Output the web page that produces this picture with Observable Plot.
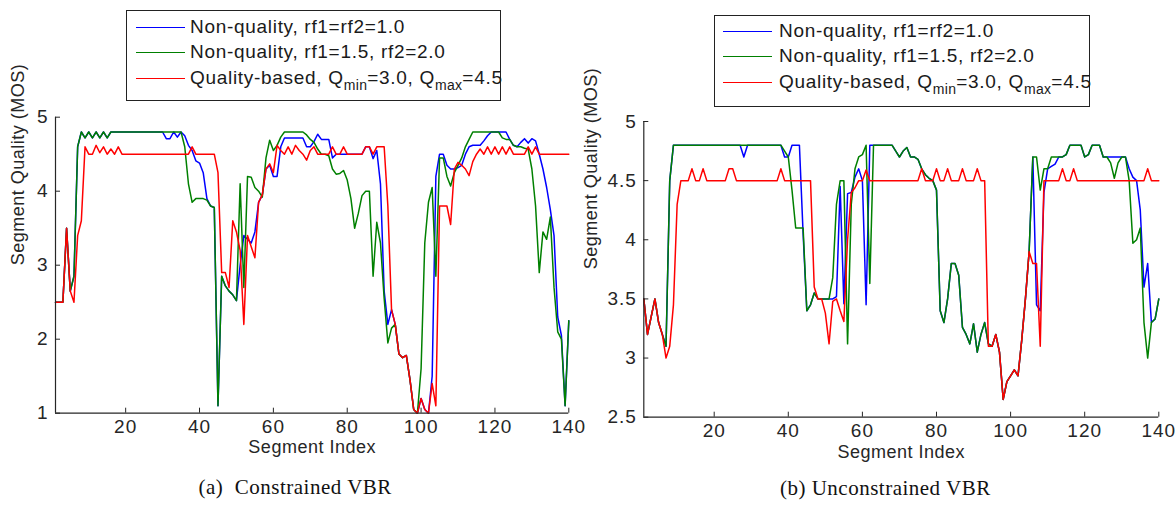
<!DOCTYPE html>
<html><head><meta charset="utf-8">
<script src="https://cdn.jsdelivr.net/npm/d3@7"></script>
<script src="https://cdn.jsdelivr.net/npm/@observablehq/plot@0.6"></script>
<style>
body{margin:0;background:#fff;}
#wrap{position:relative;width:1176px;height:508px;overflow:hidden;font-family:"Liberation Sans",Arial,sans-serif;}
#wrap svg{position:absolute;top:0;}
.pc text{letter-spacing:0.5px;}
.pc g[aria-label="x-axis tick label"] text,.pc g[aria-label="y-axis tick label"] text{letter-spacing:1px;}
.legend{position:absolute;border:1px solid #222;background:#fff;font-size:19px;letter-spacing:0.7px;color:#1a1a1a;box-sizing:border-box;}
.row{position:absolute;height:24px;line-height:24px;white-space:nowrap;}
.sw{position:absolute;height:0;border-top:1.5px solid;}
.row sub{font-size:14px;vertical-align:-6px;line-height:0;letter-spacing:0.3px;}
</style></head>
<body><div id="wrap"></div>
<script>
const seriesNames = ["Non-quality, rf1=rf2=1.0", "Non-quality, rf1=1.5, rf2=2.0", "Quality-based, Qmin=3.0, Qmax=4.5"];
const seriesColors = ["#0000ff", "#008000", "#ff0000"];
const xTicks = [20, 40, 60, 80, 100, 120, 140];
const yTicksA = [1, 2, 3, 4, 5];
const yTicksB = [2.5, 3, 3.5, 4, 4.5, 5];

// (a) Constrained VBR
const aBlue = [2.5,2.5,2.5,3.5,2.65,2.85,4.6,4.8,4.72,4.8,
4.72,4.8,4.72,4.8,4.72,4.8,4.8,4.8,4.8,4.8,
4.8,4.8,4.8,4.8,4.8,4.8,4.8,4.8,4.8,4.8,
4.71,4.71,4.8,4.73,4.8,4.75,4.62,4.55,4.41,4.38,
4.25,3.9,3.8,3.78,1.1,2.85,2.72,2.65,2.6,2.52,
3.0,3.4,3.35,3.3,3.45,3.85,3.95,4.3,4.35,4.2,
4.2,4.6,4.72,4.72,4.72,4.72,4.72,4.72,4.6,4.6,
4.67,4.77,4.7,4.7,4.7,4.45,4.5,4.5,4.5,4.5,
4.5,4.5,4.5,4.5,4.6,4.6,4.44,4.55,4.1,2.65,
2.2,2.4,2.2,1.8,1.75,1.78,1.45,1.05,1.0,1.2,
1.05,1.0,1.5,4.2,4.5,4.5,4.35,4.3,4.3,4.32,
4.35,4.5,4.6,4.62,4.62,4.62,4.68,4.75,4.8,4.8,
4.8,4.8,4.8,4.7,4.62,4.6,4.66,4.71,4.65,4.71,
4.68,4.5,4.3,4.05,3.75,3.4,2.3,2.05,1.1,2.25];
const aGreen = [2.5,2.5,2.5,3.5,2.65,2.85,4.6,4.8,4.72,4.8,
4.72,4.8,4.72,4.8,4.72,4.8,4.8,4.8,4.8,4.8,
4.8,4.8,4.8,4.8,4.8,4.8,4.8,4.8,4.8,4.8,
4.8,4.8,4.8,4.8,4.8,4.6,4.1,3.85,3.9,3.9,
3.9,3.88,3.8,3.78,1.1,2.85,2.72,2.65,2.6,2.52,
4.1,2.7,4.2,4.19,4.05,4.0,3.92,4.45,4.69,4.55,
4.62,4.73,4.8,4.8,4.8,4.8,4.8,4.8,4.76,4.7,
4.66,4.57,4.5,4.5,4.48,4.3,4.23,4.24,4.28,4.15,
3.9,3.5,3.7,3.94,4.0,4.0,2.85,3.58,3.3,2.55,
1.95,2.15,2.2,1.8,1.75,1.78,1.45,1.05,1.0,1.6,
3.3,3.85,4.05,2.85,4.45,4.45,4.2,4.07,4.25,4.35,
4.45,4.6,4.7,4.8,4.8,4.8,4.8,4.8,4.8,4.8,
4.8,4.72,4.7,4.7,4.62,4.6,4.6,4.58,4.57,4.3,
3.8,2.9,3.45,3.35,3.65,2.7,2.1,2.0,1.1,2.25];
const aRed = [2.5,2.5,2.5,3.5,2.65,2.5,3.4,3.6,4.6,4.5,
4.5,4.62,4.52,4.6,4.5,4.57,4.5,4.6,4.5,4.5,
4.5,4.5,4.5,4.5,4.5,4.5,4.5,4.5,4.5,4.5,
4.5,4.5,4.5,4.5,4.5,4.5,4.5,4.6,4.5,4.5,
4.5,4.5,4.5,4.5,4.25,2.9,2.9,2.7,3.6,3.45,
3.2,2.2,3.4,3.25,3.1,3.85,3.95,4.3,4.37,4.25,
4.62,4.55,4.5,4.6,4.5,4.62,4.55,4.5,4.42,4.55,
4.6,4.5,4.5,4.5,4.5,4.6,4.5,4.5,4.6,4.5,
4.5,4.5,4.5,4.5,4.6,4.6,4.5,4.6,4.6,4.6,
3.8,2.4,2.2,1.8,1.75,1.78,1.45,1.05,1.0,1.2,
1.05,1.0,1.4,1.1,3.8,3.8,3.8,3.55,4.3,4.39,
4.35,4.3,4.21,4.4,4.5,4.57,4.5,4.6,4.5,4.6,
4.5,4.6,4.5,4.6,4.5,4.5,4.5,4.5,4.6,4.5,
4.6,4.5,4.5,4.5,4.5,4.5,4.5,4.5,4.5,4.5];

// (b) Unconstrained VBR
const bBlue = [3.5,3.2,3.35,3.5,3.3,3.2,3.1,4.5,4.8,4.8,
4.8,4.8,4.8,4.8,4.8,4.8,4.8,4.8,4.8,4.8,
4.8,4.8,4.8,4.8,4.8,4.8,4.8,4.7,4.8,4.8,
4.8,4.8,4.8,4.8,4.8,4.8,4.8,4.8,4.7,4.7,
4.8,4.8,4.8,4.05,3.4,3.45,3.55,3.5,3.5,3.5,
3.5,3.5,3.52,4.45,3.46,4.39,4.4,4.53,4.6,4.5,
3.45,4.8,4.8,4.8,4.8,4.8,4.8,4.8,4.75,4.7,
4.75,4.78,4.7,4.7,4.68,4.6,4.55,4.52,4.5,4.42,
3.4,3.3,3.5,3.8,3.8,3.7,3.26,3.2,3.12,3.29,
3.05,3.2,3.3,3.12,3.1,3.2,3.05,2.65,2.8,2.85,
2.9,2.85,3.15,3.5,3.9,4.7,3.45,3.4,4.4,4.6,
4.62,4.64,4.7,4.7,4.72,4.8,4.8,4.8,4.8,4.7,
4.72,4.8,4.8,4.8,4.7,4.7,4.7,4.7,4.7,4.7,
4.7,4.6,4.53,4.5,4.25,3.6,3.8,3.3,3.33,3.5];
const bGreen = [3.5,3.2,3.35,3.5,3.3,3.2,3.1,4.5,4.8,4.8,
4.8,4.8,4.8,4.8,4.8,4.8,4.8,4.8,4.8,4.8,
4.8,4.8,4.8,4.8,4.8,4.8,4.8,4.8,4.8,4.8,
4.8,4.8,4.8,4.8,4.8,4.8,4.8,4.8,4.75,4.7,
4.42,4.1,4.1,4.1,3.4,3.45,3.55,3.5,3.5,3.5,
3.5,3.68,4.3,4.5,4.5,3.12,4.3,4.6,4.7,4.72,
4.8,3.63,4.8,4.8,4.8,4.8,4.8,4.8,4.75,4.7,
4.75,4.78,4.7,4.7,4.68,4.6,4.55,4.52,4.5,4.42,
3.4,3.3,3.5,3.8,3.8,3.7,3.26,3.2,3.12,3.29,
3.05,3.2,3.3,3.12,3.1,3.2,3.05,2.65,2.8,2.85,
2.9,2.85,3.15,3.5,3.9,4.7,4.7,4.42,4.6,4.6,
4.7,4.7,4.7,4.7,4.72,4.8,4.8,4.8,4.8,4.7,
4.72,4.8,4.8,4.8,4.7,4.7,4.65,4.52,4.65,4.7,
4.7,4.5,3.97,4.0,4.1,3.3,3.0,3.3,3.33,3.5];
const bRed = [3.5,3.2,3.35,3.5,3.3,3.2,3.0,3.1,3.45,4.3,
4.5,4.5,4.5,4.6,4.5,4.5,4.6,4.5,4.5,4.5,
4.5,4.5,4.5,4.6,4.6,4.5,4.5,4.5,4.5,4.5,
4.5,4.5,4.5,4.5,4.5,4.5,4.5,4.6,4.5,4.5,
4.5,4.5,4.5,4.5,4.5,4.5,3.6,3.5,3.5,3.38,
3.12,3.48,3.5,3.4,3.31,4.0,4.4,4.44,4.5,4.5,
4.59,4.5,4.5,4.5,4.5,4.5,4.5,4.5,4.5,4.5,
4.5,4.5,4.5,4.5,4.5,4.6,4.5,4.5,4.5,4.6,
4.5,4.5,4.6,4.5,4.5,4.5,4.6,4.5,4.5,4.5,
4.6,4.5,4.5,3.1,3.1,3.2,3.05,2.65,2.8,2.85,
2.9,2.85,3.15,3.5,3.9,3.8,3.8,3.1,4.5,4.5,
4.5,4.5,4.5,4.6,4.5,4.5,4.6,4.5,4.5,4.5,
4.5,4.5,4.5,4.5,4.5,4.5,4.5,4.5,4.5,4.5,
4.5,4.5,4.5,4.5,4.5,4.5,4.6,4.5,4.5,4.5];

function toRows(list) {
  const rows = [];
  list.forEach((vals, k) => vals.forEach((v, i) => rows.push({seg: i + 1, q: v, s: seriesNames[k]})));
  return rows;
}

const ink = "#262626";
function panel(p) {
  return Plot.plot({
    className: "pc",
    width: 588, height: 508,
    marginLeft: p.ml, marginRight: p.mr, marginTop: p.mt, marginBottom: p.mb,
    x: {domain: [1, 140]},
    y: {domain: p.yDomain},
    color: {domain: seriesNames, range: seriesColors},
    style: {fontFamily: "'Liberation Sans', Arial, sans-serif", fontSize: "18px", color: ink, background: "transparent", overflow: "visible"},
    marks: [
      Plot.line(toRows(p.series), {x: "seg", y: "q", stroke: "s", z: "s", strokeWidth: 1.5}),
      Plot.ruleY([p.yDomain[0]], {stroke: ink, strokeWidth: 1.2}),
      Plot.ruleX([1], {stroke: ink, strokeWidth: 1.2}),
      Plot.axisX({ticks: xTicks, tickSize: -5, tickPadding: 11, label: null, stroke: ink, fill: ink, fontSize: 19}),
      Plot.axisY({ticks: p.yTicks, tickSize: -5, tickPadding: 12, label: null, stroke: ink, fill: ink, fontSize: 19, tickFormat: d => String(d)}),
      Plot.text(["Segment Index"], {frameAnchor: "bottom", dy: p.xlabDy, fill: ink, fontSize: 18}),
      Plot.text(["Segment Quality (MOS)"], {frameAnchor: "left", rotate: -90, dx: p.ylabDx, fill: ink, fontSize: 18}),
      Plot.text([p.caption], {frameAnchor: "bottom", dx: p.capDx, dy: p.capDy, fill: "#111", fontSize: 21, fontFamily: "'Liberation Serif', 'DejaVu Serif', serif"})
    ]
  });
}

const wrap = document.getElementById("wrap");
const left = panel({series: [aBlue, aGreen, aRed], yDomain: [1, 5], yTicks: yTicksA,
  ml: 55, mr: 19.7, mt: 116.7, mb: 95.3, xlabDy: 39.5, ylabDx: -37, caption: "(a)  Constrained VBR", capDx: -17, capDy: 81});
left.style.left = "0px";
wrap.appendChild(left);
const right = panel({series: [bBlue, bGreen, bRed], yDomain: [2.5, 5], yTicks: yTicksB,
  ml: 55.3, mr: 17.7, mt: 121, mb: 91.3, xlabDy: 41, ylabDx: -53, caption: "(b) Unconstrained VBR", capDx: -16, capDy: 78});
right.style.left = "588px";
wrap.appendChild(right);

function legend(x, y, w, h, rowYs, swX, txtX) {
  const box = document.createElement("div");
  box.className = "legend";
  Object.assign(box.style, {left: x + "px", top: y + "px", width: w + "px", height: h + "px"});
  const labels = ["Non-quality, rf1=rf2=1.0", "Non-quality, rf1=1.5, rf2=2.0", "Quality-based, Q<sub>min</sub>=3.0, Q<sub>max</sub>=4.5"];
  labels.forEach((lab, k) => {
    const sw = document.createElement("div");
    sw.className = "sw";
    Object.assign(sw.style, {left: swX + "px", top: rowYs[k] + "px", width: "49px", borderTopColor: seriesColors[k]});
    box.appendChild(sw);
    const r = document.createElement("div");
    r.className = "row";
    Object.assign(r.style, {left: txtX + "px", top: (rowYs[k] - 12) + "px"});
    r.innerHTML = lab;
    box.appendChild(r);
  });
  wrap.appendChild(box);
}
legend(126, 10, 375, 91, [16, 41, 67], 9, 63);
legend(714, 15, 376, 92, [15, 40, 66], 8, 64);
</script>
</body></html>
